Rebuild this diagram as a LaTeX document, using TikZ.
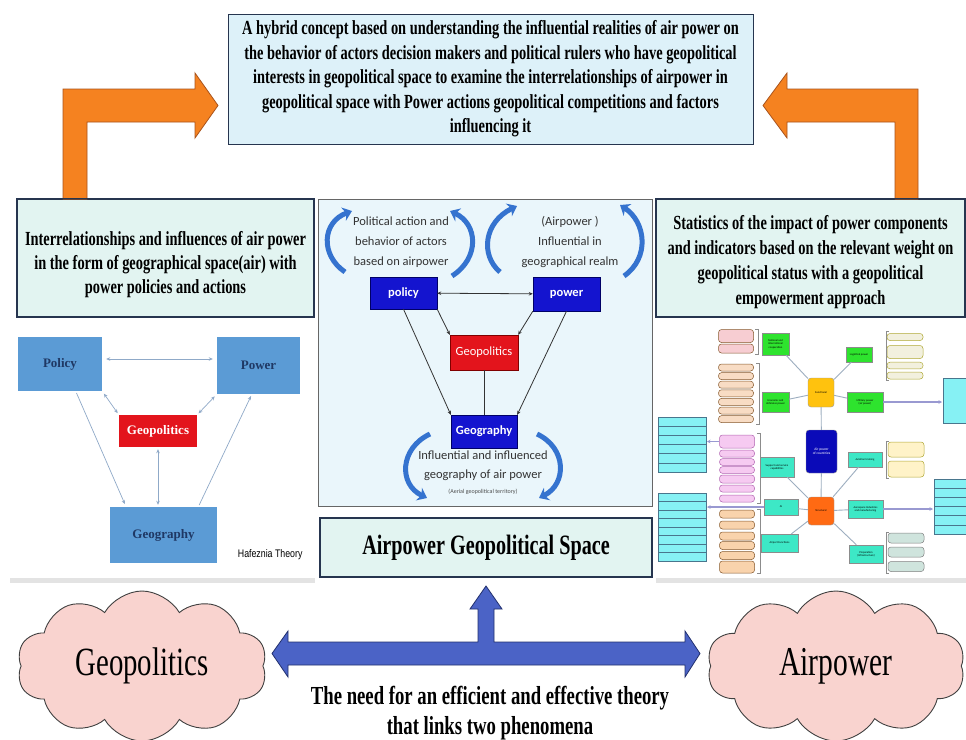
\documentclass[tikz,border=0pt]{standalone}
\usepackage{fontspec}
\setmainfont{Liberation Serif}
\newfontfamily\condfont[FakeStretch=0.72]{Liberation Serif}
\newfontfamily\narrowfont[FakeStretch=0.8]{Liberation Sans}
\newfontfamily\califont{Carlito}
\usetikzlibrary{arrows.meta,shapes.symbols,shadows,positioning}

\definecolor{conceptFill}{HTML}{DDF1F9}
\definecolor{mintFill}{HTML}{E2F4F1}
\definecolor{frameLine}{HTML}{26354F}
\definecolor{orangeFill}{HTML}{F58220}
\definecolor{orangeEdge}{HTML}{A9531C}
\definecolor{blueFill}{HTML}{4B63C6}
\definecolor{blueEdge}{HTML}{22306E}
\definecolor{cloudFill}{HTML}{F9D3CF}
\definecolor{picBack}{HTML}{EAF6FB}
\definecolor{hafBlue}{HTML}{5B9BD5}
\definecolor{hafText}{HTML}{1F3864}
\definecolor{hafArrow}{HTML}{8FA9C8}
\definecolor{geoRed}{HTML}{E3141C}
\definecolor{deepBlue}{HTML}{1414CF}
\definecolor{swirlBlue}{HTML}{3573CF}
\definecolor{mapBlue}{HTML}{0A0AB8}
\definecolor{mapAmber}{HTML}{FFC20E}
\definecolor{mapOrange}{HTML}{FF6A13}
\definecolor{mapGreen}{HTML}{2EE32E}
\definecolor{mapTurq}{HTML}{3DE8C6}
\definecolor{mapCyan}{HTML}{86F1F4}
\definecolor{mapLine}{HTML}{9DAEC0}
\definecolor{pillPink}{HTML}{F7CDD2}
\definecolor{pillCream}{HTML}{F8DCC4}
\definecolor{pillMagenta}{HTML}{F6CAF1}
\definecolor{pillTan}{HTML}{F9D3AC}
\definecolor{pillBeige}{HTML}{F2F0DE}
\definecolor{pillYellow}{HTML}{FFF3C8}
\definecolor{pillSage}{HTML}{CFE4DD}

\begin{document}
\begin{tikzpicture}[x=1pt,y=-1pt,
  txtbox/.style={draw=frameLine,line width=1.3pt,fill=mintFill,inner sep=0pt,align=center,
    font=\condfont\bfseries\fontsize{20}{24.5}\selectfont},
  picframe/.style={fill=white,drop shadow={shadow xshift=0pt,shadow yshift=-5pt,opacity=0.22}},
  hafbox/.style={fill=hafBlue,inner sep=0pt,text=hafText,font=\bfseries\fontsize{13}{15}\selectfont},
  hafarrow/.style={hafArrow,line width=0.7pt,{Stealth[length=4pt,width=3.5pt]}-{Stealth[length=4pt,width=3.5pt]}},
  navybox/.style={fill=deepBlue,draw=blue!40!black,inner sep=0pt,text=white,font=\califont\bfseries\fontsize{12.5}{14}\selectfont},
  linkline/.style={black!80,line width=0.8pt,-{Stealth[length=4pt,width=3.5pt]}},
  swirl/.style={swirlBlue,line width=5pt,-{Stealth[length=9pt,width=14pt]}},
  mapfont/.style={font=\califont\fontsize{2.8}{3.3}\selectfont},
  mapnode/.style={rounded corners=3pt,draw=black!40,inner sep=0.5pt,align=center,mapfont},
  mapbox/.style={draw=black!45,inner sep=0.5pt,align=center,mapfont},
  pill/.style={rounded corners=3pt,draw=brown!70!black,line width=0.5pt,minimum width=35},
  table/.style={fill=mapCyan,draw=cyan!50!black,line width=0.4pt},
  mapedge/.style={mapLine,line width=0.9pt},
  maparrow/.style={black!45!blue!40,line width=1.4pt,-{Stealth[length=3.5pt,width=3.5pt]}},
  bracket/.style={black!45,line width=0.5pt},
  puffcloud/.style={cloud,cloud puffs=10,cloud puff arc=120,aspect=1.7,draw=black!75,line width=0.9pt,fill=cloudFill}]
\useasboundingbox (0,0) rectangle (966,739);
\fill[white] (0,0) rectangle (966,739);

% top concept box
\node[txtbox,fill=conceptFill,line width=1pt,minimum width=525,minimum height=130] (concept) at (490.5,79)
  {A hybrid concept based on understanding the influential realities of air power on\\
   the behavior of actors decision makers and political rulers who have geopolitical\\
   interests in geopolitical space to examine the interrelationships of airpower in\\
   geopolitical space with Power actions geopolitical competitions and factors\\
   influencing it};

% side text boxes
\node[txtbox,minimum width=297,minimum height=118] (airbox) at (165.5,258) {};
\node[align=center,font=\condfont\bfseries\fontsize{20}{24}\selectfont] (airText) at (165.5,265)
  {Interrelationships and influences of air power\\
   in the form of geographical space(air) with\\
   power policies and actions};
\node[txtbox,minimum width=309,minimum height=118] (statbox) at (810.5,258) {};
\node[align=center,font=\condfont\bfseries\fontsize{20}{25}\selectfont] (statText) at (810.5,262)
  {Statistics of the impact of power components\\
   and indicators based on the relevant weight on\\
   geopolitical status with a geopolitical\\
   empowerment approach};

% orange elbow arrows
\coordinate (lTip) at (218,105.5);
\coordinate (rTip) at (763,105.5);
\filldraw[fill=orangeFill,draw=orangeEdge,line width=0.8pt]
  (63,199) -- (63,89) -- (195,89) -- (195,73) -- (lTip) -- (195,138) -- (195,122) -- (87,122) -- (87,199) -- cycle;
\filldraw[fill=orangeFill,draw=orangeEdge,line width=0.8pt]
  (918,199) -- (918,89) -- (787,89) -- (787,73) -- (rTip) -- (787,138) -- (787,122) -- (895,122) -- (895,199) -- cycle;
\draw[frameLine,line width=1.3pt] (airbox.north west) -- (airbox.north east);
\draw[frameLine,line width=1.3pt] (statbox.north west) -- (statbox.north east);

%
% left picture: Hafeznia theory
\node[picframe,minimum width=305,minimum height=253,inner sep=0pt] (hafpic) at (162.5,451.5) {};
\node[hafbox,minimum width=84,minimum height=54] (hpolicy) at (60,364) {Policy};
\node[hafbox,minimum width=83,minimum height=57] (hpower) at (258.5,365.5) {Power};
\node[hafbox,fill=geoRed,text=white,minimum width=78,minimum height=32] (hgeopol) at (158,431) {Geopolitics};
\node[hafbox,minimum width=107,minimum height=56] (hgeog) at (163.5,535) {Geography};
\node[font=\narrowfont\fontsize{11}{13}\selectfont,anchor=east] (hname) at (306,555) {Hafeznia Theory};
\draw[hafarrow,shorten <=4pt,shorten >=4pt] (hpolicy.east |- 0,359) -- (hpower.west |- 0,359);
\draw[hafarrow,shorten <=3pt,shorten >=2pt] (hpolicy.south east) -- (hgeopol.north west);
\draw[hafarrow,shorten <=3pt,shorten >=2pt] (hpower.south west) -- (hgeopol.north east);
\draw[hafarrow,shorten <=2pt,shorten >=2pt] (hgeopol.south) -- (hgeopol.south |- hgeog.north);
\draw[hafArrow,line width=0.7pt,-{Stealth[length=4pt,width=3.5pt]},shorten <=2pt,shorten >=3pt] (hpolicy.-60) -- (hgeog.143);
\draw[hafArrow,line width=0.7pt,-{Stealth[length=4pt,width=3.5pt]},shorten <=2pt,shorten >=2pt] (hgeog.39) -- (hpower.-103);

%
% centre picture
\node[fill=picBack,draw=black!60,line width=0.8pt,minimum width=334,minimum height=307,inner sep=0pt] (centerpic) at (485,352.5) {};
\node[navybox,minimum width=67,minimum height=32] (cpolicy) at (403.5,293) {policy};
\node[navybox,minimum width=67,minimum height=34] (cpower) at (566.5,294) {power};
\node[navybox,fill=geoRed,draw=red!50!black,font=\califont\fontsize{12.5}{14}\selectfont,minimum width=68,minimum height=35] (cgeopol) at (484,352.5) {Geopolitics};
\node[navybox,minimum width=66,minimum height=33] (cgeog) at (484,431.5) {Geography};
\draw[linkline,{Stealth[length=4pt,width=3.5pt]}-{Stealth[length=4pt,width=3.5pt]}] (cpolicy) -- (cpower);
\draw[linkline] (cpolicy.south east) -- (cgeopol.north west);
\draw[linkline] (cpower.south west) -- (cgeopol.north east);
\draw[linkline] (cpolicy.south) -- (cgeog.north west);
\draw[linkline] (cpower.south) -- (cgeog.north east);
\draw[black!80,line width=0.8pt] (cgeopol) -- (cgeog);
\node[align=center,text=black!80,font=\califont\fontsize{12.5}{20}\selectfont] (actText) at (401,242)
  {Political action and\\behavior of actors\\based on airpower};
\node[align=center,text=black!80,font=\califont\fontsize{12.5}{20}\selectfont] (realmText) at (570,242)
  {(Airpower )\\Influential in\\geographical realm};
\node[align=center,text=black!80,font=\califont\fontsize{12.5}{19}\selectfont] (geoText) at (483,466)
  {Influential and influenced\\geography of air power};
\node[text=black!70,font=\califont\fontsize{6}{7}\selectfont] (aerialText) at (483,492) {(Aerial geopolitical territory)};
% curved arrows
\draw[swirl] (345,272) .. controls (320,255) and (322,222) .. (352,211);
\draw[swirl] (452,276) .. controls (480,258) and (478,224) .. (450,211);
\draw[swirl] (500,272) .. controls (480,255) and (484,222) .. (517,206);
\draw[swirl] (624,276) .. controls (650,258) and (646,222) .. (620,205);
\draw[swirl] (430,434) .. controls (400,448) and (398,484) .. (427,498);
\draw[swirl] (537,434) .. controls (567,448) and (567,484) .. (539,498);

% space box
\node[txtbox,font=\condfont\bfseries\fontsize{28}{30}\selectfont,minimum width=332,minimum height=59] (spacebox) at (486,547.5)
  {Airpower Geopolitical Space};

%
% right picture: mind map
\node[picframe,minimum width=310,minimum height=253,inner sep=0pt] (mappic) at (811,451.5) {};
% tables
\filldraw[table] (658,417) rectangle (706,472);
\foreach \k in {1,...,5} \draw[cyan!50!black,line width=0.4pt] (658,417+9.17*\k) -- (706,417+9.17*\k);
\filldraw[table] (658,493) rectangle (706,561);
\foreach \k in {1,...,7} \draw[cyan!50!black,line width=0.4pt] (658,493+8.5*\k) -- (706,493+8.5*\k);
\filldraw[table] (943,378) rectangle (970,423);
\filldraw[table] (934,479) rectangle (970,534);
\foreach \k in {1,...,5} \draw[cyan!50!black,line width=0.4pt] (934,479+9.17*\k) -- (970,479+9.17*\k);
% pills
\foreach \y/\h [count=\i] in {336/13, 348.5/9}
  \node[pill,fill=pillPink,minimum height=\h] (pink\i) at (736,\y) {};
\foreach \y [count=\i] in {367.5,376.1,384.7,393.3,401.9,410.5,419.1}
  \node[pill,fill=pillCream,minimum height=7] (cream\i) at (736,\y) {};
\foreach \y/\h [count=\i] in {441.5/13, 453.5/7, 462/6, 470/6, 479/8, 488.5/7, 498.5/7}
  \node[pill,fill=pillMagenta,draw=violet!60,minimum height=\h] (mag\i) at (737,\y) {};
\foreach \y/\h [count=\i] in {514/8, 525/8, 536/8, 545.5/8, 555.5/8, 567/12}
  \node[pill,fill=pillTan,minimum height=\h] (tan\i) at (737,\y) {};
\foreach \y/\h [count=\i] in {337/7, 352/13, 365.5/6, 375.5/7}
  \node[pill,fill=pillBeige,draw=olive!70,minimum width=36,minimum height=\h] (beige\i) at (905,\y) {};
\foreach \y/\h [count=\i] in {449.5/15, 469/16}
  \node[pill,fill=pillYellow,draw=olive!70,minimum width=36,minimum height=\h] (yell\i) at (906,\y) {};
\foreach \y [count=\i] in {538,552,566.5}
  \node[pill,fill=pillSage,draw=black!50,minimum width=36,minimum height=10] (sage\i) at (906,\y) {};
% brackets
\draw[bracket] (755,329) -- (758,329) -- (758,354) -- (755,354);
\draw[bracket] (756,363) -- (759,363) -- (759,424) -- (756,424);
\draw[bracket] (757,433) -- (760,433) -- (760,503) -- (757,503);
\draw[bracket] (757,509) -- (760,509) -- (760,573) -- (757,573);
\draw[bracket] (889,331) -- (886,331) -- (886,380) -- (889,380);
\draw[bracket] (889,441) -- (886,441) -- (886,478) -- (889,478);
\draw[bracket] (889,532) -- (886,532) -- (886,573) -- (889,573);
% centre nodes
\node[mapnode,fill=mapBlue,text=white,font=\califont\fontsize{3.6}{4.4}\selectfont,minimum width=31,minimum height=43] (apc) at (821.5,451.5) {Air power\\of countries};
\node[mapnode,fill=mapAmber,minimum width=26,minimum height=29] (func) at (821,392.5) {Functional};
\node[mapnode,fill=mapOrange,minimum width=26,minimum height=28] (struc) at (821,511) {Structural};
% branch boxes
\node[mapbox,fill=mapGreen,minimum width=27,minimum height=22] (coop) at (775.5,344) {National and\\international\\cooperation};
\node[mapbox,fill=mapGreen,minimum width=27,minimum height=20] (econ) at (775.5,402) {Economic and\\defensive power};
\node[mapbox,fill=mapGreen,minimum width=26,minimum height=15] (logi) at (859,354.5) {Logistical power};
\node[mapbox,fill=mapGreen,minimum width=36,minimum height=20] (mili) at (865,402) {Military power\\(air power)};
\node[mapbox,fill=mapTurq,minimum width=34,minimum height=20] (supp) at (777,467) {Support and service\\capabilities};
\node[mapbox,fill=mapTurq,minimum width=34,minimum height=16] (ai) at (781,507) {AI};
\node[mapbox,fill=mapTurq,minimum width=37,minimum height=18] (airp) at (779.5,543) {Airport Functions};
\node[mapbox,fill=mapTurq,minimum width=34,minimum height=15] (avia) at (865,459.5) {Aviation training};
\node[mapbox,fill=mapTurq,minimum width=35,minimum height=18] (aero) at (865.5,509) {Aerospace Industries\\and manufacturing};
\node[mapbox,fill=mapTurq,minimum width=34,minimum height=18] (prep) at (866,554) {Preparation\\(Infrastructure)};
\foreach \b in {coop,econ,logi,mili,apc} \draw[mapedge] (func) -- (\b);
\foreach \b in {supp,ai,airp,avia,aero,prep,apc} \draw[mapedge] (struc) -- (\b);
\coordinate (miliEnd) at (942,402);
\coordinate (aeroEnd) at (933,509);
\coordinate (aiEnd) at (707,507);
\coordinate (magEnd) at (707,441.5);
\draw[maparrow] (mili) -- (miliEnd);
\draw[maparrow] (aero) -- (aeroEnd);
\draw[maparrow] (ai) -- (aiEnd);
\draw[maparrow,line width=0.8pt] (mag1) -- (magEnd);

%
% bottom: clouds and linking arrow
\node[puffcloud,minimum width=250,minimum height=150,font=\condfont\fontsize{40}{42}\selectfont] (geocloud) at (142,666) {Geopolitics};
\node[puffcloud,minimum width=258,minimum height=150,font=\condfont\fontsize{41}{42}\selectfont] (aircloud) at (836,666) {Airpower};
\coordinate (upTip) at (486,586);
\filldraw[fill=blueFill,draw=blueEdge,line width=0.8pt]
  (272,653.5) -- (288,631) -- (288,642) -- (478,642) -- (478,609) -- (470,609) -- (upTip)
  -- (502,609) -- (494,609) -- (494,642) -- (685,642) -- (685,631) -- (700,653.5)
  -- (685,677) -- (685,665) -- (288,665) -- (288,677) -- cycle;
\node[align=center,font=\condfont\bfseries\fontsize{26}{30}\selectfont] (needText) at (490,713)
  {The need for an efficient and effective theory\\that links two phenomena};
\end{tikzpicture}
\end{document}
